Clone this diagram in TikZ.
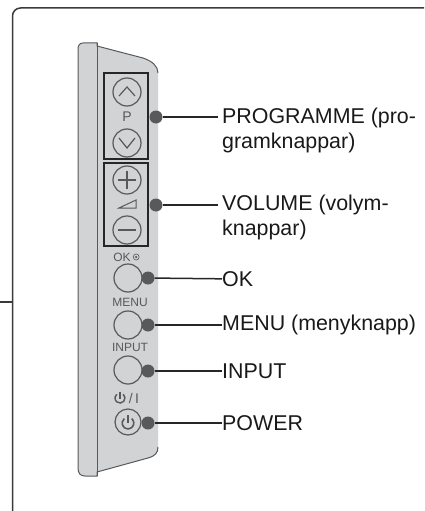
\documentclass[tikz,border=0pt]{standalone}
\usepackage{fontspec}
\setmainfont{Liberation Sans}
\usepackage{tikz}
\usetikzlibrary{arrows.meta,positioning,calc}
\definecolor{panelgray}{HTML}{D1D3D4}
\definecolor{inkgray}{HTML}{58595B}
\definecolor{framegray}{HTML}{3A3A3C}

\begin{document}
\begin{tikzpicture}[
      x=1pt,y=-1pt,
      every node/.style={font=\fontsize{21.4}{25}\selectfont},
      keylabel/.style={inner sep=0pt,text=inkgray,font=\fontsize{12}{12}\selectfont},
      keybtn/.style={circle,draw=inkgray,line width=1.2pt,minimum size=28pt,inner sep=0pt},
      keygroup/.style={draw=black!85,line width=1.5pt,minimum width=44pt,inner sep=0pt},
      pin/.style={circle,fill=inkgray,minimum size=13pt,inner sep=0pt},
      callout/.style={align=left,inner sep=0pt,anchor=west,text=black!90},
      lead/.style={line width=1.5pt,black!85},
      glyph/.style={draw=inkgray,line width=1.2pt},
    ]
      \useasboundingbox (0,0) rectangle (424,511);
      % frame
      \draw[line width=1.5pt,framegray,rounded corners=8pt] (12.5,511)--(12.5,8)--(424,8);
      \coordinate (tickend) at (0,302);
      \coordinate (tickfoot) at (12.5,302);
      \draw[line width=1.2pt,framegray] (tickend)--(tickfoot);
      % panel
      \fill[panelgray] (83,43)--(97,43)--(97,46)--(143,58) .. controls (152,61) and (158,66) .. (158,73)
        --(158,447) .. controls (158,453) and (155,456) .. (148,458)--(97,472)--(97,476)--(85,476)
        .. controls (80,476) and (78,473) .. (78,468)--(78,50) .. controls (78,46) and (79,43) .. (83,43)--cycle;
      \draw[line width=1pt,inkgray] (83,43)--(97,43)--(97,46)--(143,58) .. controls (152,61) and (158,66) .. (158,73);
      \draw[line width=1pt,inkgray] (158,447) .. controls (158,453) and (155,456) .. (148,458)--(97,472)--(97,476)--(85,476)
        .. controls (80,476) and (78,473) .. (78,468)--(78,50) .. controls (78,46) and (79,43) .. (83,43);
      \draw[line width=1pt,inkgray] (97,43)--(97,476);
      % key groups
      \node[keygroup,minimum height=86pt] (prog) at (126,116) {};
      \node[keygroup,minimum height=83pt] (vol) at (126,204.5) {};
      % keys
      \node[keybtn] (up)    at (127,92)  {};
      \node[keylabel,font=\fontsize{14}{14}\selectfont] (plabel) at (127,117) {P};
      \node[keybtn] (down)  at (127,143) {};
      \node[keybtn] (plus)  at (127,180) {};
      \node[keybtn] (minus) at (127,230) {};
      \node[keylabel] (oklabel) at (122,257) {OK};
      \node[circle,draw=inkgray,line width=0.6pt,minimum size=6pt,inner sep=0pt,right=2pt of oklabel] (okmark) {};
      \node[circle,fill=inkgray,minimum size=2.5pt,inner sep=0pt] (okdot) at (okmark) {};
      \node[keybtn] (ok)    at (128,278) {};
      \node[keylabel] (menulabel) at (130,302) {MENU};
      \node[keybtn] (menu)  at (128,325) {};
      \node[keylabel] (inputlabel) at (130,347) {INPUT};
      \node[keybtn] (input) at (128,370) {};
      \node[keylabel,font=\fontsize{14}{14}\selectfont] (powerlabel) at (134,398) {/\,I};
      \node[keybtn,minimum size=26pt] (power) at (128,422) {};
      % key glyphs
      \draw[glyph] (119,96)--(127,87)--(135,96);
      \draw[glyph] (119,138)--(127,148)--(135,138);
      \draw[glyph,line width=1.8pt] (118,180)--(136,180) (127,171)--(127,189);
      \draw[glyph,line width=1.8pt] (118,230)--(136,230);
      \draw[glyph,line width=1pt] (119,208)--(136,200)--(136,208)--cycle;
      \draw[glyph,line width=1.4pt] (123.2,394.2) arc (-50:230:5);
      \draw[glyph,line width=1.4pt] (120,391.5)--(120,398.5);
      \draw[glyph,line width=1.6pt] (131.7,418.6) arc (-50:230:5.8);
      \draw[glyph,line width=1.6pt] (128,415)--(128,423);
      % callouts
      \node[pin] (progpin)  at (156,117) {};
      \node[pin] (volpin)   at (156,205) {};
      \node[pin] (okpin)    at (148,278) {};
      \node[pin] (menupin)  at (148,325) {};
      \node[pin] (inputpin) at (148,371) {};
      \node[pin] (powerpin) at (148,423) {};
      \node[callout,anchor=north west] (progtext) at (222,108) {PROGRAMME (pro-\\gramknappar)};
      \node[callout,anchor=north west] (voltext)  at (222,195) {VOLUME (volym-\\knappar)};
      \node[callout] (oktext)    at (222,279) {OK};
      \node[callout] (menutext)  at (222,325) {MENU (menyknapp)};
      \node[callout] (inputtext) at (222,371) {INPUT};
      \node[callout] (powertext) at (222,423) {POWER};
      \coordinate (progend) at (218,117);
      \coordinate (volend)  at (218,205);
      \draw[lead] (progpin)--(progend);
      \draw[lead] (volpin)--(volend);
      \draw[lead] (okpin)--(oktext);
      \draw[lead] (menupin)--(menutext);
      \draw[lead] (inputpin)--(inputtext);
      \draw[lead] (powerpin)--(powertext);
    \end{tikzpicture}
\end{document}
